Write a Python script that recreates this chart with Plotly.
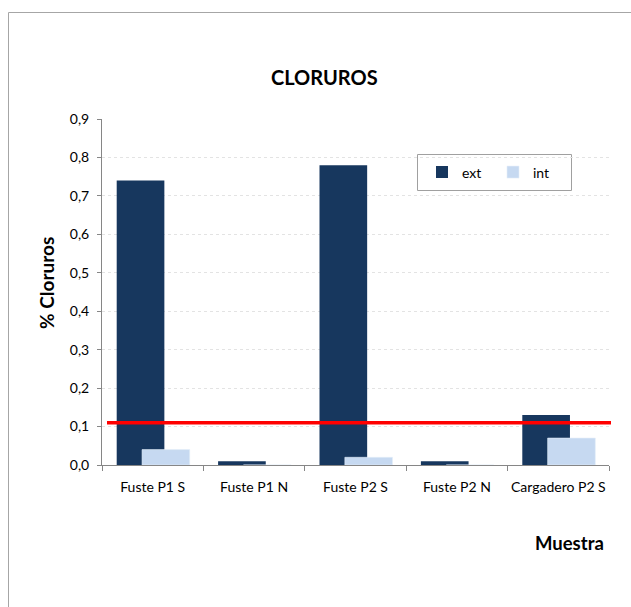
import plotly.graph_objects as go

categories = ["Fuste P1 S", "Fuste P1 N", "Fuste P2 S", "Fuste P2 N", "Cargadero P2 S"]
ext_values = [0.74, 0.01, 0.78, 0.01, 0.13]
int_values = [0.04, 0.0, 0.02, 0.0, 0.07]
limit_value = 0.11
y_ticks = [0.0, 0.1, 0.2, 0.3, 0.4, 0.5, 0.6, 0.7, 0.8, 0.9]

FONT = "Lato"
W, H = 631, 607
L, R, T, B = 102, 22, 119, 142
pw = W - L - R
ph = H - T - B

def px_x(x):
    return (x - L) / pw

def px_y(y):
    return (H - B - y) / ph

fig = go.Figure()
fig.add_trace(go.Bar(
    x=categories, y=ext_values, name="ext",
    marker=dict(color="#17375E", line=dict(width=0)),
    offset=-0.355, width=0.47,
))
fig.add_trace(go.Bar(
    x=categories, y=int_values, name="int",
    marker=dict(color="#C6D9F1", line=dict(width=0.6, color="#E4EEF9")),
    offset=-0.105, width=0.47,
))

shapes = [
    # red limit line
    dict(type="line", xref="paper", yref="y", x0=px_x(107), x1=px_x(611),
         y0=limit_value, y1=limit_value, line=dict(color="#FF0000", width=3.5), layer="above"),
    # outer chart frame
    dict(type="rect", xref="paper", yref="paper", x0=px_x(8.5), x1=px_x(660),
         y0=px_y(650), y1=px_y(12.5), line=dict(color="#A6A6A6", width=1), layer="below"),
    # legend box
    dict(type="rect", xref="paper", yref="paper", x0=px_x(417.5), x1=px_x(571.5),
         y0=px_y(190.5), y1=px_y(154.5), line=dict(color="#A0A0A0", width=1),
         fillcolor="white", layer="below"),
]

annotations = [
    dict(text="<b>CLORUROS</b>", xref="paper", yref="paper", x=px_x(324), y=px_y(77),
         showarrow=False, font=dict(family=FONT, size=20, color="black"),
         xanchor="center", yanchor="middle"),
    dict(text="<b>% Cloruros</b>", xref="paper", yref="paper", x=px_x(46), y=px_y(283),
         showarrow=False, textangle=-90, font=dict(family=FONT, size=19, color="black"),
         xanchor="center", yanchor="middle"),
    dict(text="<b>Muestra</b>", xref="paper", yref="paper", x=px_x(569), y=px_y(543),
         showarrow=False, font=dict(family=FONT, size=18.5, color="black"),
         xanchor="center", yanchor="middle"),
]

fig.update_layout(
    width=W, height=H,
    margin=dict(l=L, r=R, t=T, b=B, pad=0, autoexpand=False),
    paper_bgcolor="white", plot_bgcolor="white",
    barmode="overlay",
    separators=",.",
    font=dict(family=FONT, size=14, color="black"),
    shapes=shapes,
    annotations=annotations,
    showlegend=True,
    legend=dict(
        orientation="h", x=px_x(422), y=px_y(172.5), xanchor="left", yanchor="middle",
        bgcolor="rgba(0,0,0,0)", borderwidth=0,
        font=dict(family=FONT, size=14, color="black"),
        itemwidth=30, traceorder="normal", entrywidth=26, entrywidthmode="pixels",
    ),
    xaxis=dict(
        type="category", range=[-0.5, 4.5], automargin=False, tickangle=0,
        showline=True, linecolor="#868686", linewidth=1,
        ticks="outside", ticklen=5, tickcolor="#868686", tickson="boundaries",
        showgrid=False, tickfont=dict(family=FONT, size=14), ticklabelstandoff=9,
    ),
    yaxis=dict(
        range=[0, 0.9], tickvals=y_ticks, tickformat=".1f", automargin=False,
        showline=True, linecolor="#868686", linewidth=1,
        ticks="outside", ticklen=4, tickcolor="#868686",
        showgrid=True, gridcolor="#E3E3E3", griddash="dot", gridwidth=1,
        zeroline=False, tickfont=dict(family=FONT, size=14), ticklabelstandoff=5,
    ),
)

fig.write_html("out.html")
